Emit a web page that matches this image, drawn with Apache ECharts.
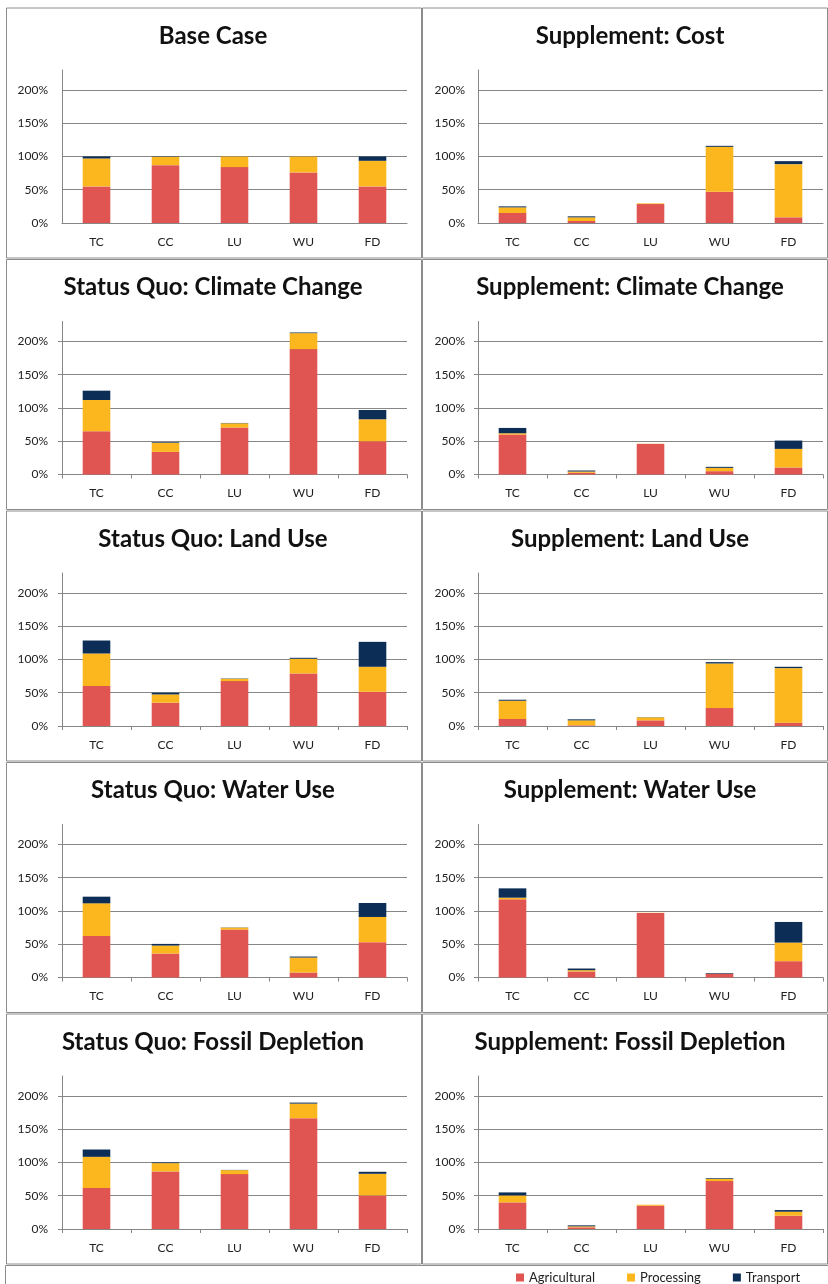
<!DOCTYPE html>
<html>
<head>
    <meta charset="utf-8">
    <script src="https://cdn.jsdelivr.net/npm/echarts@6/dist/echarts.min.js"></script>
</head>
<body style="margin:0;background:#fff;">
<div id="main" style="width: 828px; height: 1284px;"></div>

<script type="text/javascript">
    var chart = echarts.init(document.getElementById('main'));

    var categories = ['TC', 'CC', 'LU', 'WU', 'FD'];
    var yTicks = [0, 50, 100, 150, 200];
    var seriesNames = ['Agricultural', 'Processing', 'Transport'];
    var colors = ['#E05451', '#FCB61E', '#0C2D55'];

    // left column = Status Quo, right column = Supplement (row by row)
    var titles = [
        'Base Case', 'Supplement: Cost',
        'Status Quo: Climate Change', 'Supplement: Climate Change',
        'Status Quo: Land Use', 'Supplement: Land Use',
        'Status Quo: Water Use', 'Supplement: Water Use',
        'Status Quo: Fossil Depletion', 'Supplement: Fossil Depletion'
    ];

    // values in %, order TC CC LU WU FD
    var agricultural = [
        [55, 87, 84, 76, 55],
        [15, 3, 28.5, 47, 8.5],
        [65, 34, 70.5, 188.5, 50],
        [60, 2.5, 46, 5, 10.5],
        [60, 35, 67.5, 79, 51.5],
        [10.5, 1, 8.5, 27, 5],
        [62.5, 36, 72, 7.5, 53],
        [117.5, 9, 97, 5.5, 24.5],
        [61.5, 86.5, 82.5, 166.5, 50.5],
        [40, 2.5, 35, 72, 20]
    ];
    var processing = [
        [42, 12.5, 16, 24, 38.5],
        [8.5, 5.5, 1, 67.5, 80],
        [47, 13.5, 6.5, 24, 33],
        [2, 2, 0.3, 5, 28],
        [49, 12.5, 3.5, 22, 37.5],
        [27.5, 7.5, 4.5, 67, 82],
        [49, 12, 3, 22.5, 38],
        [2.5, 2, 0.3, 0.3, 28],
        [47, 12.5, 6, 22, 32.5],
        [10.5, 1.5, 1.5, 3.5, 6]
    ];
    var transport = [
        [3, 0.5, 0.2, 0.2, 6.5],
        [1.5, 1.5, 0, 1.5, 4.5],
        [14, 1, 0.5, 1, 14],
        [8, 1.5, 0, 1.5, 12.5],
        [19.5, 2.5, 0.5, 1.5, 37.5],
        [1.5, 1.5, 0.3, 2, 2],
        [10, 2.5, 0.3, 1.5, 21],
        [14, 2.5, 0, 1, 31],
        [11, 1, 0.3, 1.5, 3],
        [4.5, 1.5, 0, 1, 2.5]
    ];
    var seriesData = [agricultural, processing, transport];

    var font = 'Lato, "Open Sans", sans-serif';
    var gray = '#868686';

    var grids = [], xAxes = [], yAxes = [], series = [], titleList = [], graphic = [];

    for (var i = 0; i < titles.length; i++) {
        var col = i % 2;
        var row = Math.floor(i / 2);
        var panelTop = 8 + row * 251.5;
        var showTicks = row > 0;

        // panel frame
        graphic.push({
            type: 'rect',
            silent: true,
            shape: {x: col ? 422.5 : 6.5, y: panelTop, width: col ? 405 : 415, height: 250},
            style: {fill: 'none', stroke: '#8c8c8c', lineWidth: 1}
        });

        titleList.push({
            text: titles[i],
            left: col ? 630 : 213,
            top: panelTop + 16,
            textAlign: 'center',
            padding: 0,
            textStyle: {fontFamily: font, fontSize: 24, fontWeight: 'bold', color: '#111'}
        });

        grids.push({
            left: col ? 478 : 62,
            top: panelTop + 62,
            width: 345,
            height: 153
        });

        xAxes.push({
            type: 'category',
            gridIndex: i,
            data: categories,
            axisLine: {lineStyle: {color: gray, width: 1}},
            axisTick: {show: showTicks, length: 4, lineStyle: {color: gray}},
            axisLabel: {margin: 13, color: '#222', fontFamily: font, fontSize: 12}
        });

        yAxes.push({
            type: 'value',
            gridIndex: i,
            min: 0,
            max: 230,
            interval: 50,
            axisLine: {show: true, lineStyle: {color: gray, width: 1}},
            axisTick: {show: showTicks, length: 4, lineStyle: {color: gray}},
            splitLine: {show: true, showMaxLine: false, lineStyle: {color: gray, width: 1}},
            axisLabel: {
                margin: col ? 13 : 14,
                showMaxLabel: false,
                color: '#222',
                fontFamily: font,
                fontSize: 12,
                formatter: function (v) {
                    return yTicks.indexOf(v) >= 0 ? v + '%' : '';
                }
            }
        });

        for (var s = 0; s < seriesNames.length; s++) {
            series.push({
                name: seriesNames[s],
                type: 'bar',
                stack: 'panel' + i,
                xAxisIndex: i,
                yAxisIndex: i,
                barWidth: '40%',
                itemStyle: {color: colors[s]},
                data: seriesData[s][i]
            });
        }
    }

    // legend box at the bottom
    graphic.push({
        type: 'rect',
        silent: true,
        shape: {x: 5.5, y: 1265.5, width: 840, height: 40},
        style: {fill: 'none', stroke: '#8c8c8c', lineWidth: 1}
    });

    var option = {
        animation: false,
        color: colors,
        title: titleList,
        legend: {
            data: seriesNames,
            left: 516,
            top: 1271,
            icon: 'rect',
            itemWidth: 8,
            itemHeight: 8,
            itemGap: 32,
            padding: 0,
            textStyle: {fontFamily: font, fontSize: 13, color: '#222'}
        },
        grid: grids,
        xAxis: xAxes,
        yAxis: yAxes,
        series: series,
        graphic: graphic
    };

    chart.setOption(option);
</script>
</body>
</html>
